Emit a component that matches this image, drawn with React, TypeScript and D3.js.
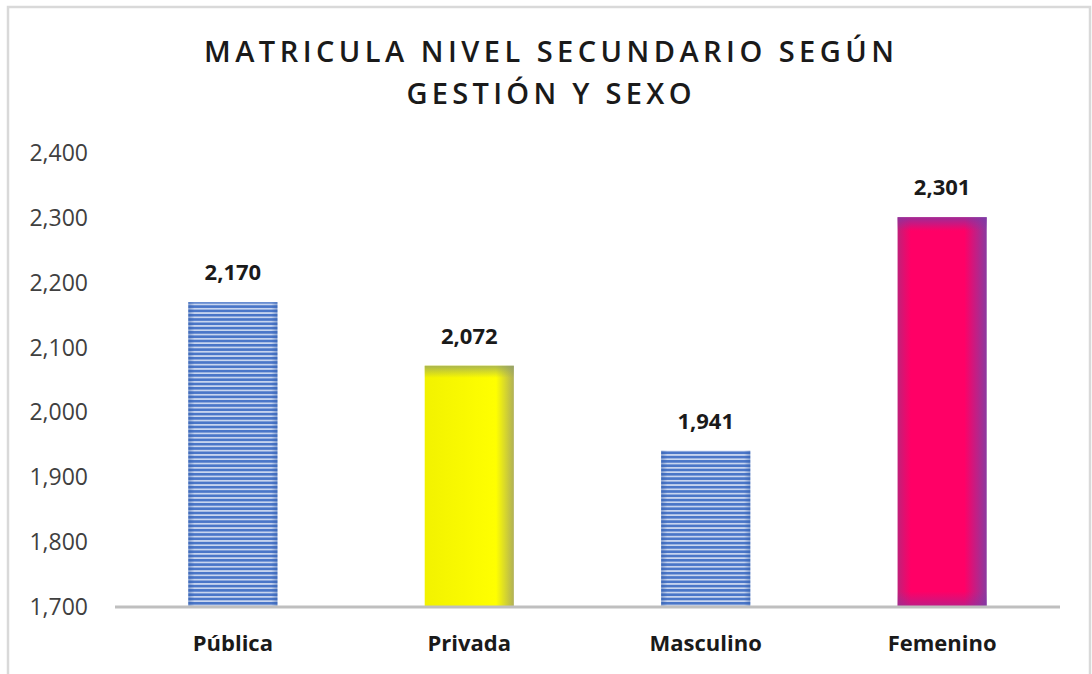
import React from 'react';
import * as d3 from 'd3';

// chart data
const categories = ['Pública', 'Privada', 'Masculino', 'Femenino'];
const values = [2170, 2072, 1941, 2301];
const fills = ['url(#stripes)', 'url(#yellowGrad)', 'url(#stripes)', 'url(#pinkGrad)'];
const yTicks = [1700, 1800, 1900, 2000, 2100, 2200, 2300, 2400];
const titleLines = ['MATRICULA NIVEL SECUNDARIO SEGÚN', 'GESTIÓN Y SEXO'];

const W = 1092;
const H = 674;
const margin = { left: 115, right: 32, top: 153, bottom: 67 };

export default function App() {
  const x = d3.scaleBand().domain(categories).range([margin.left, W - margin.right]).paddingInner(0.623).paddingOuter(0.31);
  const y = d3.scaleLinear().domain([1700, 2400]).range([H - margin.bottom, margin.top]);
  const fmt = d3.format(',');
  const font = '"Open Sans", sans-serif';

  return (
    <div style={{ position: 'absolute', left: 0, top: 0 }}>
      <svg width={W} height={H} style={{ display: 'block' }}>
        <defs>
          <pattern id="stripes" width="8" height="4.3" patternUnits="userSpaceOnUse">
            <rect width="8" height="4.3" fill="#4a76c8" />
            <rect y="2.6" width="8" height="1.7" fill="#c9d6ef" />
          </pattern>
          <linearGradient id="edgeH" x1="0" x2="1" y1="0" y2="0">
            <stop offset="0" stopColor="#2f5aa8" stopOpacity="0.45" />
            <stop offset="0.07" stopColor="#2f5aa8" stopOpacity="0" />
            <stop offset="0.93" stopColor="#2f5aa8" stopOpacity="0" />
            <stop offset="1" stopColor="#2f5aa8" stopOpacity="0.45" />
          </linearGradient>
          <linearGradient id="yellowGrad" x1="0" x2="1" y1="0" y2="0">
            <stop offset="0" stopColor="#f2f200" />
            <stop offset="0.8" stopColor="#ffff00" />
            <stop offset="1" stopColor="#b0b058" />
          </linearGradient>
          <linearGradient id="yellowTop" x1="0" x2="0" y1="0" y2="1">
            <stop offset="0" stopColor="#8a9a70" stopOpacity="0.7" />
            <stop offset="0.05" stopColor="#8a9a70" stopOpacity="0" />
          </linearGradient>
          <linearGradient id="pinkGrad" x1="0" x2="1" y1="0" y2="0">
            <stop offset="0" stopColor="#c0207a" />
            <stop offset="0.15" stopColor="#ff0066" />
            <stop offset="0.75" stopColor="#ff0066" />
            <stop offset="1" stopColor="#8a3aa0" />
          </linearGradient>
          <linearGradient id="pinkV" x1="0" x2="0" y1="0" y2="1">
            <stop offset="0" stopColor="#7a3aa8" stopOpacity="0.75" />
            <stop offset="0.035" stopColor="#7a3aa8" stopOpacity="0" />
            <stop offset="0.96" stopColor="#7a3aa8" stopOpacity="0" />
            <stop offset="1" stopColor="#7a3aa8" stopOpacity="0.5" />
          </linearGradient>
        </defs>

        <rect x={8} y={7} width={1082} height={H + 10} fill="#fff" stroke="#d9d9d9" strokeWidth={2.5} />

        {titleLines.map((t, i) => (
          <text key={t} x={549} y={62 + i * 42} textAnchor="middle" fontFamily={font} fontSize={29} fontWeight={600}
            fill="#1a1a1a" textLength={i === 0 ? 690 : 285} lengthAdjust="spacing">{t}</text>
        ))}

        {yTicks.map(t => (
          <text key={t} x={88} y={y(t) + 8} textAnchor="end" fontFamily={font} fontSize={23} fill="#404040">{fmt(t)}</text>
        ))}

        {categories.map((c, i) => {
          const bx = x(c)!;
          const bw = x.bandwidth();
          const top = y(values[i]);
          const h = y(1700) - top;
          return (
            <g key={c}>
              <rect x={bx} y={top} width={bw} height={h} fill={fills[i]} />
              {fills[i] === 'url(#stripes)' && <rect x={bx} y={top} width={bw} height={h} fill="url(#edgeH)" />}
              {i === 1 && <rect x={bx} y={top} width={bw} height={h} fill="url(#yellowTop)" />}
              {i === 3 && <rect x={bx} y={top} width={bw} height={h} fill="url(#pinkV)" />}
              <text x={bx + bw / 2} y={top - 22} textAnchor="middle" fontFamily={font} fontSize={22} fontWeight={700} fill="#1a1a1a">{fmt(values[i])}</text>
              <text x={bx + bw / 2} y={651} textAnchor="middle" fontFamily={font} fontSize={22} fontWeight={700} fill="#1a1a1a">{c}</text>
            </g>
          );
        })}

        <line x1={margin.left} x2={W - margin.right} y1={y(1700)} y2={y(1700)} stroke="#bfbfbf" strokeWidth={3} />
      </svg>
    </div>
  );
}
